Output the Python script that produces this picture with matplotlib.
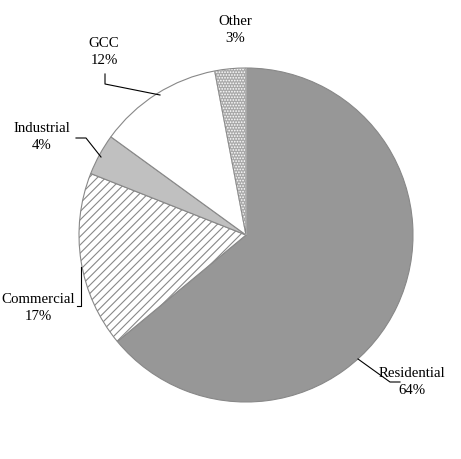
import matplotlib.pyplot as plt
from matplotlib.patches import Wedge

labels = ['Residential', 'Commercial', 'Industrial', 'GCC', 'Other']
shares = [64, 17, 4, 12, 3]
colors = ['#979797', 'white', '#c0c0c0', 'white', '#a8a8a8']
hatches = ['', '////', '', '', '......']

# label positions and leader lines (figure pixels, y up)
label_pos = [(412, 77), (38, 151), (42, 322), (104, 407), (235, 429)]
leaders = [
    [(358, 100), (390, 77), (400, 77)],
    [(77, 153), (81, 153), (81, 192)],
    [(76, 321), (86, 321), (101, 302)],
    [(105, 385), (105, 375), (160, 364)],
    None,
]

plt.rcParams['font.family'] = ['Liberation Serif', 'DejaVu Serif']
plt.rcParams['hatch.linewidth'] = 0.8

fig = plt.figure(figsize=(4.61, 4.59), dpi=100)
ax = fig.add_axes([0, 0, 1, 1])

wedges, _ = ax.pie(shares, colors=colors, startangle=90, counterclock=False,
                   center=(246, 224), radius=167,
                   wedgeprops=dict(edgecolor='#888888', linewidth=0.8))
for w, h in zip(wedges, hatches):
    if h:
        w.set_hatch(h)
# white dots on the "Other" slice, gray outline drawn on top
w = wedges[4]
w.set_edgecolor('white')
ax.add_patch(Wedge(w.center, w.r, w.theta1, w.theta2, fill=False,
                   edgecolor='#888888', linewidth=0.8))

ax.set_xlim(0, 461)
ax.set_ylim(0, 459)
ax.set_aspect('equal')
ax.axis('off')

for name, s, pos, ld in zip(labels, shares, label_pos, leaders):
    ax.text(pos[0], pos[1], f'{name}\n{s}%', ha='center', va='center',
            fontsize=10.7, linespacing=1.32)
    if ld:
        xs, ys = zip(*ld)
        ax.plot(xs, ys, color='black', lw=0.8)

fig.savefig('out.png', dpi=100)
